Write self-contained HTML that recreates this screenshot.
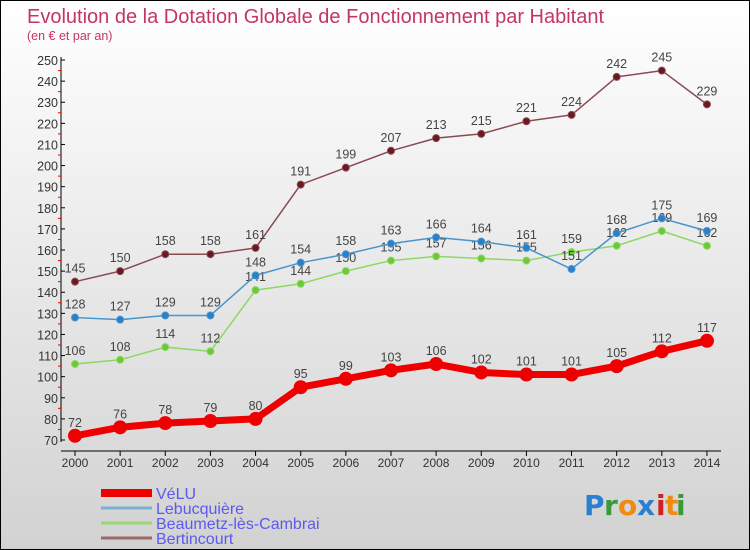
<!DOCTYPE html>
<html><head><meta charset="utf-8"><style>
body{margin:0}
#wrap{width:750px;height:550px;position:relative;box-sizing:border-box;border:1px solid #000;background:linear-gradient(#ffffff,#d2d2d2);overflow:hidden;font-family:"Liberation Sans",sans-serif}
</style></head><body>
<div id="wrap">
<svg id="svg" width="748" height="548" style="position:absolute;left:0;top:0">
<text x="26" y="22" font-size="20" fill="#c4346a">Evolution de la Dotation Globale de Fonctionnement par Habitant</text>
<text x="26" y="39" font-size="12.5" fill="#c4346a">(en € et par an)</text>
<g id="g"></g>
<g font-size="28" font-weight="bold" font-family="'DejaVu Sans',sans-serif">
<text x="583" y="514" fill="#2a7fd0">P</text><text x="603" y="514" fill="#3a9a3a">r</text><text x="617" y="514" fill="#f08a10">o</text><text x="636" y="514" fill="#2a7fd0">x</text><text x="655" y="514" fill="#d02020">i</text><text x="664" y="514" fill="#f08a10">t</text><text x="675" y="514" fill="#3a9a3a">i</text>
</g>
</svg>
</div>
<script>
const years=[2000,2001,2002,2003,2004,2005,2006,2007,2008,2009,2010,2011,2012,2013,2014];
const velu=[72,76,78,79,80,95,99,103,106,102,101,101,105,112,117];
const lebucquiere=[128,127,129,129,148,154,158,163,166,164,161,151,168,175,169];
const beaumetz=[106,108,114,112,141,144,150,155,157,156,155,159,162,169,162];
const bertincourt=[145,150,158,158,161,191,199,207,213,215,221,224,242,245,229];
const yTicks=[70,80,90,100,110,120,130,140,150,160,170,180,190,200,210,220,230,240,250];
const seriesNames=["VéLU","Lebucquière","Beaumetz-lès-Cambrai","Bertincourt"];
const NS="http://www.w3.org/2000/svg";
const g=document.getElementById('g');
const x=i=>74+i*45.14;
const y=v=>439-(v-70)*2.111;
function mk(t,a,txt){const e=document.createElementNS(NS,t);for(const k in a)e.setAttribute(k,a[k]);if(txt!==undefined)e.textContent=txt;g.appendChild(e);return e;}
// axes
let ax=mk('line',{x1:60,y1:56,x2:60,y2:441,stroke:'#000','stroke-width':1});

let xa=mk('line',{x1:60,y1:450,x2:720,y2:450,stroke:'#000','stroke-width':1});

yTicks.forEach(v=>{
 mk('line',{x1:60,y1:y(v),x2:64,y2:y(v),stroke:'#000'});
 if(v<250)mk('line',{x1:57,y1:y(v+5),x2:60,y2:y(v+5),stroke:'#e00'});
 const t=mk('text',{x:57,y:y(v)+5,'font-size':12.5,fill:'#333','text-anchor':'end'},v);
 
});
years.forEach((yr,i)=>{
 mk('line',{x1:x(i),y1:450,x2:x(i),y2:455,stroke:'#000'});
 const t=mk('text',{x:x(i),y:466,'font-size':12,fill:'#333','text-anchor':'middle'},yr);
 
});
function series(data,name,line,fill,w,r){
 const p=mk('polyline',{points:data.map((v,i)=>x(i)+','+y(v)).join(' '),fill:'none',stroke:line,'stroke-width':w,'stroke-linejoin':'round'});
 
 data.forEach((v,i)=>{
  const c=mk('circle',{cx:x(i),cy:y(v),r:r,fill:fill,stroke:line,'stroke-width':1});
  
  const t=mk('text',{x:x(i),y:y(v)-9,'font-size':12.5,fill:'#444','text-anchor':'middle'},v);
  
 });
}
series(bertincourt,'bertincourt','#8a4a52','#6a1822',1.5,3.5);
series(beaumetz,'beaumetz','#8cd860','#6cc83a',1.5,3.5);
series(lebucquiere,'lebucquiere','#4a94cc','#2a80c8',1.5,3.5);
series(velu,'velu','#ee0000','#ee0000',7,6.5);
// legend
const lc=['#ee0000','#7ab0d0','#9ad878','#9a6a6a'],lw=[8,3,3,3];
seriesNames.forEach((n,i)=>{
 const yy=492+i*15;
 const l=mk('line',{x1:100,y1:yy,x2:151,y2:yy,stroke:lc[i],'stroke-width':lw[i]});
 
 const t=mk('text',{x:155,y:yy+6,'font-size':16,fill:'#5a5aee'},n);
 
});
</script>
</body></html>
